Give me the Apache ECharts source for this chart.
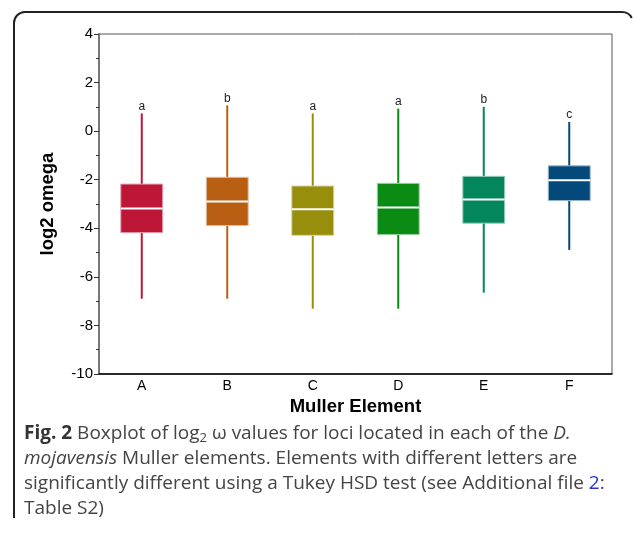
<!DOCTYPE html>
<html>
<head>
<meta charset="utf-8">
<script src="https://cdn.jsdelivr.net/npm/echarts@6/dist/echarts.min.js"></script>
<style>
  html, body { margin: 0; padding: 0; background: #fff; }
  #chart { width: 633px; height: 533px; }
</style>
</head>
<body>
<div id="chart"></div>
<script>
// ---- data ----
var categories = ['A', 'B', 'C', 'D', 'E', 'F'];
var whiskerLow  = [-6.90, -6.90, -7.31, -7.31, -6.65, -4.89];
var q1Values    = [-4.18, -3.89, -4.29, -4.26, -3.79, -2.86];
var medians     = [-3.19, -2.90, -3.22, -3.14, -2.81, -2.02];
var q3Values    = [-2.18, -1.90, -2.26, -2.15, -1.86, -1.43];
var whiskerHigh = [0.73, 1.06, 0.73, 0.93, 1.00, 0.38];
var groupLetters = ['a', 'b', 'a', 'a', 'b', 'c'];
var yTicks = { min: -10, max: 4, interval: 2 };

var fillColors = ['#BE1637', '#B85F14', '#978E0B', '#0B8B14', '#04865C', '#03497A'];

function tint(hex, t) {
  var r = parseInt(hex.slice(1, 3), 16), g = parseInt(hex.slice(3, 5), 16), b = parseInt(hex.slice(5, 7), 16);
  r = Math.round(r + (255 - r) * t); g = Math.round(g + (255 - g) * t); b = Math.round(b + (255 - b) * t);
  return 'rgb(' + r + ',' + g + ',' + b + ')';
}

var boxData = categories.map(function (c, i) {
  return [i, whiskerLow[i], q1Values[i], medians[i], q3Values[i], whiskerHigh[i]];
});

var chart = echarts.init(document.getElementById('chart'), null, { renderer: 'canvas' });
var sans = 'Liberation Sans, Arial, sans-serif';
var capFont = 'Open Sans, sans-serif';
var capSize = 19;

var option = {
  animation: false,
  backgroundColor: '#fff',
  grid: {
    left: 99, top: 34, right: 21, bottom: 159,
    show: true, borderColor: '#555', borderWidth: 1, backgroundColor: 'transparent'
  },
  xAxis: {
    type: 'category',
    data: categories,
    boundaryGap: true,
    axisLine: { onZero: false, lineStyle: { color: '#000', width: 1.5 } },
    axisTick: { show: false },
    axisLabel: { color: '#000', fontSize: 14, fontFamily: sans, margin: 5 },
    name: 'Muller Element',
    nameLocation: 'middle',
    nameGap: 22,
    nameTextStyle: { color: '#000', fontSize: 18.5, fontWeight: 'bold', fontFamily: sans }
  },
  yAxis: {
    type: 'value',
    min: yTicks.min, max: yTicks.max, interval: yTicks.interval,
    axisLine: { show: true, lineStyle: { color: '#777', width: 2 } },
    axisTick: { show: true, inside: false, length: 5, lineStyle: { color: '#333', width: 1 } },
    minorTick: { show: true, splitNumber: 2, length: 3, lineStyle: { color: '#333', width: 1 } },
    splitLine: { show: false },
    axisLabel: { color: '#000', fontSize: 15, fontFamily: sans, margin: 6 },
    name: 'log2 omega',
    nameLocation: 'middle',
    nameRotate: 90,
    nameGap: 42,
    nameTextStyle: { color: '#000', fontSize: 18.5, fontWeight: 'bold', fontFamily: sans }
  },
  series: [{
    type: 'custom',
    data: boxData,
    encode: { x: 0, y: [1, 2, 3, 4, 5] },
    renderItem: function (params, api) {
      var idx = api.value(0);
      var band = api.size([1, 0])[0];
      var halfW = band * 0.245;
      var pLow = api.coord([idx, api.value(1)]);
      var pQ1 = api.coord([idx, api.value(2)]);
      var pMed = api.coord([idx, api.value(3)]);
      var pQ3 = api.coord([idx, api.value(4)]);
      var pHigh = api.coord([idx, api.value(5)]);
      var col = fillColors[idx];
      var x = pMed[0];
      return {
        type: 'group',
        children: [
          { type: 'line', shape: { x1: x, y1: pHigh[1], x2: x, y2: pQ3[1] }, style: { stroke: col, lineWidth: 2 } },
          { type: 'line', shape: { x1: x, y1: pQ1[1], x2: x, y2: pLow[1] }, style: { stroke: col, lineWidth: 2 } },
          { type: 'rect', shape: { x: x - halfW, y: pQ3[1], width: halfW * 2, height: pQ1[1] - pQ3[1] },
            style: { fill: col, stroke: tint(col, 0.6), lineWidth: 1 } },
          { type: 'line', shape: { x1: x - halfW, y1: pMed[1], x2: x + halfW, y2: pMed[1] }, style: { stroke: '#fff', lineWidth: 2 } },
          { type: 'text', x: x, y: pHigh[1] - 7,
            style: { text: groupLetters[idx], fill: '#222', fontSize: 12, fontFamily: sans, align: 'center', verticalAlign: 'middle' } }
        ]
      };
    }
  }],
  graphic: [
    { type: 'line', shape: { x1: 14, y1: 518, x2: 14, y2: 23 }, style: { stroke: '#222', lineWidth: 2 } },
    { type: 'arc', shape: { cx: 25, cy: 23, r: 11, startAngle: Math.PI, endAngle: Math.PI * 1.5, clockwise: true }, style: { stroke: '#222', lineWidth: 2, fill: 'none' } },
    { type: 'line', shape: { x1: 25, y1: 12, x2: 622, y2: 12 }, style: { stroke: '#222', lineWidth: 2 } },
    { type: 'arc', shape: { cx: 622, cy: 23, r: 11, startAngle: Math.PI * 1.5, endAngle: Math.PI * 1.85, clockwise: true }, style: { stroke: '#222', lineWidth: 2, fill: 'none' } },
    {
      type: 'text', left: 24, top: 424,
      style: {
        text: '{b|Fig. 2} Boxplot of log{sub|2} ω values for loci located in each of the {i|D.}',
        fill: '#444', fontSize: capSize, fontFamily: capFont,
        rich: {
          b: { fontWeight: 'bold', fill: '#333', fontSize: capSize, fontFamily: capFont },
          i: { fontStyle: 'italic', fill: '#444', fontSize: capSize, fontFamily: capFont },
          sub: { fontSize: 13, fill: '#444', fontFamily: capFont, padding: [9, 0, 0, 0] }
        }
      }
    },
    {
      type: 'text', left: 24, top: 449,
      style: {
        text: '{i|mojavensis} Muller elements. Elements with different letters are',
        fill: '#444', fontSize: capSize, fontFamily: capFont,
        rich: { i: { fontStyle: 'italic', fill: '#444', fontSize: capSize, fontFamily: capFont } }
      }
    },
    {
      type: 'text', left: 24, top: 474,
      style: {
        text: 'significantly different using a Tukey HSD test (see Additional file {l|2}:',
        fill: '#444', fontSize: capSize, fontFamily: capFont,
        rich: { l: { fill: '#2233dd', fontSize: capSize, fontFamily: capFont } }
      }
    },
    {
      type: 'text', left: 24, top: 499,
      style: { text: 'Table S2)', fill: '#444', fontSize: capSize, fontFamily: capFont }
    }
  ]
};
chart.setOption(option);
</script>
</body>
</html>
